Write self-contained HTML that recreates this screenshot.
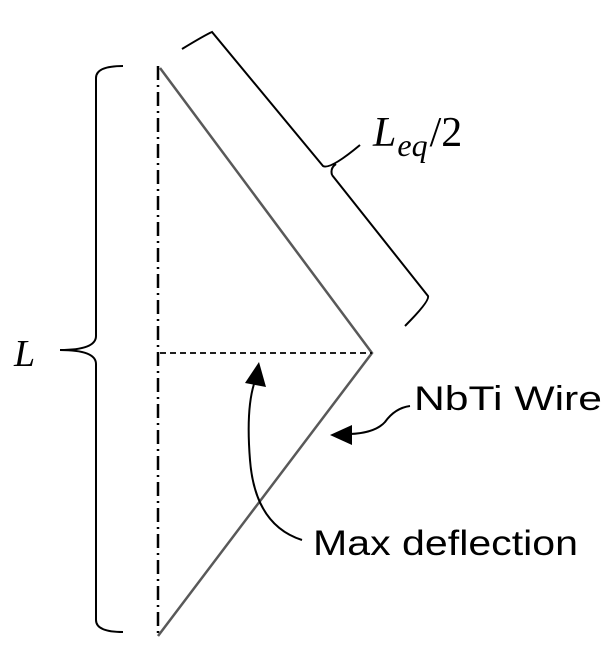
<!DOCTYPE html>
<html><head><meta charset="utf-8"><style>
html,body{margin:0;padding:0;background:#fff;width:615px;height:671px;overflow:hidden}
</style></head><body>
<svg width="615" height="671" viewBox="0 0 615 671" xmlns="http://www.w3.org/2000/svg">
<defs><marker id="ah" viewBox="0 0 10 10" refX="9" refY="5" markerWidth="10" markerHeight="9" markerUnits="userSpaceOnUse" orient="auto"><path d="M0,0 L10,5 L0,10 z" fill="#000"/></marker>
<marker id="ah2" viewBox="0 0 10 10" refX="9" refY="5" markerWidth="18" markerHeight="18" markerUnits="userSpaceOnUse" orient="auto"><path d="M0,0 L10,5 L0,10 z" fill="#000"/></marker></defs>
<line x1="158" y1="66" x2="158" y2="638" stroke="#000" stroke-width="2.5" stroke-dasharray="14,5,2,5"/>
<polyline points="160,68 372,353 158,636" fill="none" stroke="#595959" stroke-width="2.5"/>
<line x1="160" y1="353" x2="372" y2="353" stroke="#000" stroke-width="1.8" stroke-dasharray="6,4"/>
<path d="M123,66 Q96,66 96,78 L96,336 Q96,350 60,350 Q96,350 96,364 L96,620 Q96,632 123,632" fill="none" stroke="#000" stroke-width="2"/>
<path d="M182,49 Q205,35 212,32 L323,166 Q330,170 360,145 M332,175 Q330,168 336,164 M332,175 L428,296 Q430,301 405,326" fill="none" stroke="#000" stroke-width="2"/>
<text x="14" y="366" font-family="Liberation Serif, serif" font-style="italic" font-size="38">L</text>
<text x="373" y="146" font-family="Liberation Serif, serif" font-size="42"><tspan font-style="italic">L</tspan><tspan font-style="italic" font-size="32" dy="10" dx="1">eq</tspan><tspan dy="-10" dx="2">/2</tspan></text>
<path d="M410,406 Q395,408 385,422 Q375,433 350,434" fill="none" stroke="#000" stroke-width="2"/>
<path d="M330,435 L352,425 L352,445 z" fill="#000"/>
<text x="414" y="410" font-family="Liberation Sans, sans-serif" font-size="34" textLength="188" lengthAdjust="spacingAndGlyphs">NbTi Wire</text>
<path d="M302,540 Q255,525 250,460 Q246,410 254,384" fill="none" stroke="#000" stroke-width="2"/>
<path d="M259,362 L266,387 L245,383 z" fill="#000"/>
<text x="313" y="555" font-family="Liberation Sans, sans-serif" font-size="35" textLength="265" lengthAdjust="spacingAndGlyphs">Max deflection</text>
</svg>
</body></html>
